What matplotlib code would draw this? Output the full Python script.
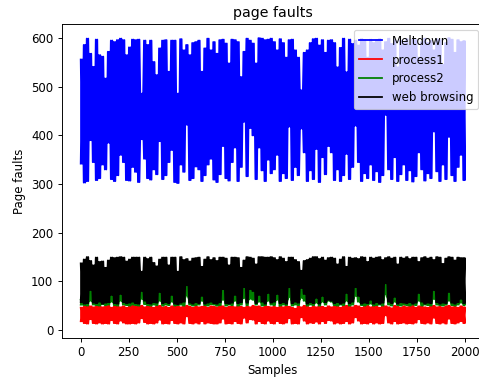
import matplotlib

matplotlib.use("Agg")
import matplotlib.pyplot as plt
import numpy as np

# Envelope values, one peak and one dip per 3 pixels of x
meltdown_peaks = [
    556, 586, 599, 568, 541, 597, 565, 562, 517, 572, 595, 592, 596, 599, 596, 565,
    581, 597, 596, 597, 486, 595, 586, 595, 551, 524, 579, 595, 596, 531, 595, 595,
    486, 598, 575, 586, 565, 590, 592, 595, 531, 579, 599, 575, 592, 568, 596, 597,
    589, 548, 597, 596, 592, 520, 572, 599, 595, 589, 548, 600, 599, 596, 597, 599,
    592, 575, 598, 590, 560, 596, 597, 575, 560, 493, 570, 575, 590, 598, 599, 585,
    596, 570, 595, 596, 590, 540, 580, 599, 530, 597, 588, 595, 585, 598, 596, 560,
    597, 590, 596, 598, 575, 592, 599, 588, 596, 540, 595, 590, 598, 585, 597, 596,
    560, 592, 599, 590, 595, 575, 598, 596, 545, 590, 600, 597, 570, 596, 592, 594,
]
meltdown_dips = [
    342, 303, 306, 390, 345, 308, 312, 340, 330, 385, 310, 306, 318, 360, 345, 308,
    307, 335, 325, 304, 392, 352, 312, 309, 330, 320, 388, 310, 318, 345, 370, 304,
    302, 340, 325, 422, 308, 312, 336, 330, 306, 318, 340, 352, 309, 304, 320, 378,
    312, 307, 345, 375, 306, 335, 428, 316, 415, 400, 310, 375, 328, 306, 350, 322,
    330, 360, 306, 322, 312, 418, 308, 335, 318, 414, 365, 306, 328, 310, 372, 304,
    355, 320, 378, 365, 308, 330, 306, 318, 362, 310, 335, 420, 345, 306, 322, 312,
    340, 308, 326, 304, 318, 442, 330, 310, 355, 306, 320, 340, 308, 328, 305, 316,
    365, 330, 307, 322, 312, 408, 326, 306, 340, 310, 397, 318, 306, 335, 360, 308,
]
process1_peaks = [
    46, 48, 50, 49, 47, 48, 49, 47, 48, 50, 46, 49, 48, 47, 49, 46,
    48, 50, 49, 48, 50, 47, 49, 48, 46, 49, 50, 47, 48, 46, 49, 48,
    50, 47, 49, 50, 48, 46, 49, 47, 48, 50, 46, 49, 48, 47, 50, 49,
    46, 48, 49, 47, 50, 48, 46, 49, 47, 50, 48, 49, 46, 50, 48, 47,
    48, 46, 50, 47, 49, 48, 46, 44, 49, 47, 50, 48, 46, 49, 47, 50,
    48, 46, 49, 47, 48, 50, 46, 49, 50, 48, 47, 50, 49, 46, 48, 50,
    47, 49, 48, 46, 50, 49, 47, 45, 50, 48, 46, 49, 47, 48, 50, 46,
    49, 48, 47, 46, 49, 50, 47, 48, 46, 49, 50, 47, 48, 46, 49, 47,
]
process1_dips = [
    18, 14, 13, 22, 14, 13, 15, 13, 14, 13, 20, 14, 13, 19, 15, 13,
    13, 14, 13, 15, 24, 16, 13, 14, 13, 15, 21, 13, 14, 13, 20, 14,
    13, 15, 13, 28, 14, 13, 15, 13, 18, 13, 15, 14, 13, 13, 15, 23,
    13, 14, 13, 18, 14, 13, 25, 15, 22, 21, 13, 18, 14, 13, 19, 14,
    13, 18, 14, 13, 15, 24, 13, 14, 13, 26, 19, 13, 15, 14, 17, 13,
    18, 14, 20, 19, 13, 15, 13, 14, 18, 13, 15, 26, 19, 13, 14, 13,
    16, 13, 15, 13, 14, 30, 15, 13, 18, 13, 14, 15, 13, 14, 13, 15,
    22, 14, 13, 15, 13, 25, 14, 13, 15, 13, 23, 14, 13, 15, 18, 14,
]
process2_peaks = [
    62, 60, 64, 88, 63, 61, 65, 60, 62, 64, 78, 61, 63, 80, 62, 60,
    65, 63, 61, 60, 86, 66, 62, 60, 64, 62, 84, 61, 63, 60, 78, 62,
    60, 64, 63, 96, 62, 60, 64, 61, 76, 60, 63, 65, 61, 60, 63, 90,
    61, 60, 64, 78, 62, 63, 94, 61, 90, 86, 60, 78, 64, 60, 82, 62,
    64, 80, 61, 63, 60, 94, 62, 64, 61, 92, 80, 60, 63, 62, 72, 60,
    76, 63, 68, 66, 61, 63, 60, 62, 82, 61, 64, 94, 76, 60, 63, 61,
    68, 60, 63, 60, 62, 100, 64, 61, 74, 60, 63, 62, 61, 63, 60, 62,
    82, 64, 60, 62, 61, 88, 63, 60, 62, 61, 84, 62, 60, 63, 70, 61,
]
process2_dips = [
    52, 51, 50, 60, 52, 51, 50, 53, 51, 52, 58, 51, 50, 60, 52, 51,
    50, 52, 51, 50, 64, 53, 51, 50, 52, 51, 60, 50, 52, 51, 58, 50,
    51, 52, 50, 72, 52, 50, 51, 52, 60, 51, 50, 53, 52, 50, 51, 62,
    50, 52, 51, 60, 50, 52, 66, 51, 64, 62, 52, 58, 50, 51, 60, 52,
    51, 62, 50, 52, 51, 68, 50, 52, 51, 66, 60, 50, 52, 51, 56, 50,
    58, 52, 60, 58, 51, 50, 52, 51, 60, 50, 52, 70, 58, 51, 50, 52,
    54, 50, 51, 52, 50, 74, 52, 50, 58, 51, 50, 52, 51, 50, 52, 51,
    60, 50, 52, 51, 50, 64, 52, 51, 50, 52, 60, 51, 50, 52, 56, 51,
]
browsing_peaks = [
    137, 145, 150, 142, 133, 149, 140, 141, 128, 143, 149, 148, 149, 150, 149, 141,
    145, 149, 149, 149, 120, 149, 146, 149, 138, 131, 145, 149, 149, 133, 149, 149,
    120, 150, 144, 146, 141, 147, 148, 149, 130, 145, 150, 144, 148, 142, 149, 149,
    147, 133, 149, 149, 148, 128, 143, 150, 149, 147, 135, 150, 150, 149, 149, 150,
    148, 144, 150, 147, 140, 149, 149, 144, 140, 122, 142, 144, 147, 150, 150, 146,
    149, 143, 148, 149, 147, 135, 145, 150, 130, 149, 147, 148, 146, 150, 149, 140,
    149, 147, 149, 150, 144, 148, 150, 147, 149, 135, 149, 147, 150, 146, 149, 149,
    140, 148, 150, 147, 149, 144, 150, 149, 136, 147, 150, 149, 143, 149, 148, 148,
]
browsing_dips = [
    57, 54, 55, 82, 56, 55, 58, 54, 56, 57, 72, 55, 54, 74, 57, 55,
    56, 58, 55, 54, 80, 60, 55, 54, 57, 56, 78, 55, 57, 55, 72, 54,
    53, 56, 58, 92, 56, 54, 57, 55, 70, 54, 56, 58, 55, 54, 57, 84,
    55, 54, 56, 72, 55, 57, 88, 56, 84, 80, 55, 72, 58, 54, 76, 56,
    58, 74, 55, 57, 54, 88, 55, 58, 56, 86, 74, 54, 57, 55, 66, 54,
    70, 57, 62, 60, 55, 57, 54, 56, 76, 55, 58, 88, 70, 54, 56, 55,
    62, 54, 57, 54, 56, 96, 58, 55, 68, 54, 57, 56, 55, 57, 54, 56,
    76, 58, 54, 56, 55, 82, 57, 54, 56, 55, 78, 56, 54, 57, 64, 55,
]
series_labels = ["Meltdown", "process1", "process2", "web browsing"]
series_colors = ["b", "r", "g", "k"]
last_sample = 2000


def zigzag(peaks, dips):
    # goes along the samples peak first, then comes back dip first, so that
    # the strokes fill the band like the 2000 samples of the original do
    forth = np.column_stack([peaks, dips]).ravel()
    back = np.column_stack([dips, peaks]).ravel()[::-1]
    return np.concatenate([forth, back])


series = [
    zigzag(meltdown_peaks, meltdown_dips),
    zigzag(process1_peaks, process1_dips),
    zigzag(process2_peaks, process2_dips),
    zigzag(browsing_peaks, browsing_dips),
]

fig = plt.figure(figsize=(479 / 85, 381 / 85), dpi=85)
# the reference is cropped on the right, so the axes run past the figure edge
ax = fig.add_axes([61.5 / 479, 43 / 381, 422.5 / 479, 314 / 381])

for values, label, color in zip(series, series_labels, series_colors):
    forth = np.linspace(0, last_sample, len(values) // 2)
    samples = np.concatenate([forth, forth[::-1]])
    ax.plot(samples, values, color=color, label=label)

ax.set_xlim(-100, 2100)
ax.set_ylim(-16.4, 629)
ax.set_title("page faults")
ax.set_xlabel("Samples")
ax.set_ylabel("Page faults")
ax.legend(loc="upper right")

fig.savefig("out.png", dpi=85)
